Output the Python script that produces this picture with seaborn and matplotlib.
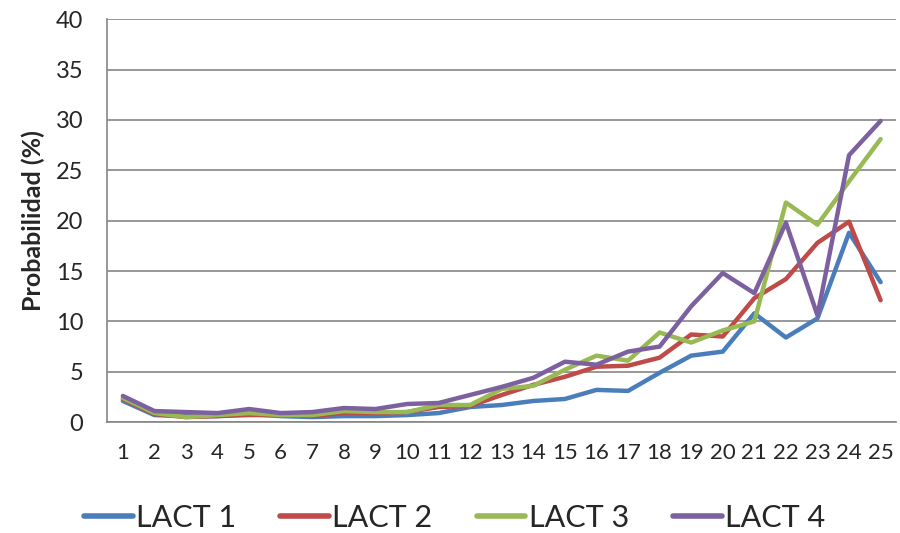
import pandas as pd
import matplotlib
matplotlib.use("Agg")
import matplotlib.pyplot as plt
import seaborn as sns

# Datos
categorias = list(range(1, 26))
lact_1 = [2.1, 0.7, 0.6, 0.6, 0.8, 0.6, 0.5, 0.6, 0.6, 0.7, 0.9, 1.5, 1.7,
          2.1, 2.3, 3.2, 3.1, 4.9, 6.6, 7.0, 10.8, 8.4, 10.3, 18.8, 13.9]
lact_2 = [2.3, 0.8, 0.5, 0.6, 0.7, 0.7, 0.6, 0.9, 0.9, 1.0, 1.5, 1.6, 2.7,
          3.7, 4.5, 5.5, 5.6, 6.4, 8.7, 8.5, 12.3, 14.2, 17.8, 19.9, 12.1]
lact_3 = [2.4, 0.9, 0.5, 0.7, 0.9, 0.7, 0.7, 1.1, 1.0, 1.0, 1.7, 1.7, 3.3,
          3.6, 5.2, 6.6, 6.1, 8.9, 7.9, 9.1, 10.0, 21.8, 19.6, 23.9, 28.1]
lact_4 = [2.6, 1.1, 1.0, 0.9, 1.3, 0.9, 1.0, 1.4, 1.3, 1.8, 1.9, 2.7, 3.5,
          4.4, 6.0, 5.7, 7.0, 7.5, 11.5, 14.8, 12.8, 19.8, 10.6, 26.5, 29.9]
series = ["LACT 1", "LACT 2", "LACT 3", "LACT 4"]
colores = ["#4A7EBB", "#BE4B48", "#98B954", "#7D60A0"]

filas = []
for nombre, valores in zip(series, [lact_1, lact_2, lact_3, lact_4]):
    for c, v in zip(categorias, valores):
        filas.append({"cat": c, "prob": v, "serie": nombre})
df = pd.DataFrame(filas)

sns.set_style("white")
plt.rcParams["font.family"] = ["Lato", "DejaVu Sans"]

fig = plt.figure(figsize=(9, 5.33), dpi=100)
ax = fig.add_axes([0.119, 0.208, 0.877, 0.756])

sns.lineplot(data=df, x="cat", y="prob", hue="serie", palette=colores,
             linewidth=3.2, ax=ax, legend=False)

gris = "#868686"
ax.set_xlim(0.5, 25.5)
ax.set_ylim(0, 40)
ax.set_yticks(range(0, 41, 5))
ax.yaxis.grid(True, color=gris, linewidth=1.2)
ax.set_axisbelow(True)
for lado in ["top", "right"]:
    ax.spines[lado].set_visible(False)
for lado in ["left", "bottom"]:
    ax.spines[lado].set_color(gris)
    ax.spines[lado].set_linewidth(1.2)

# etiquetas centradas, marcas entre categorias
ax.set_xticks(categorias)
ax.set_xticklabels([str(c) for c in categorias])
ax.set_xticks([c + 0.5 for c in range(0, 26)], minor=True)
ax.tick_params(axis="x", which="major", length=0, labelsize=16, pad=15)
ax.tick_params(axis="x", which="minor", length=7, color=gris, width=1.2)
ax.tick_params(axis="y", which="major", length=7, color=gris, width=1.2,
               labelsize=17, pad=10)

ax.set_xlabel("")
ax.set_ylabel("Probabilidad (%)", fontsize=18, fontweight="bold", labelpad=8)

handles = [plt.Line2D([], [], color=c, linewidth=4, solid_capstyle="round")
           for c in colores]
fig.legend(handles, series, loc="center", bbox_to_anchor=(0.505, 0.028),
           ncol=4, frameon=False, fontsize=22, handlelength=1.6,
           handletextpad=0.1, columnspacing=1.45)

fig.savefig("out.png", dpi=100)
